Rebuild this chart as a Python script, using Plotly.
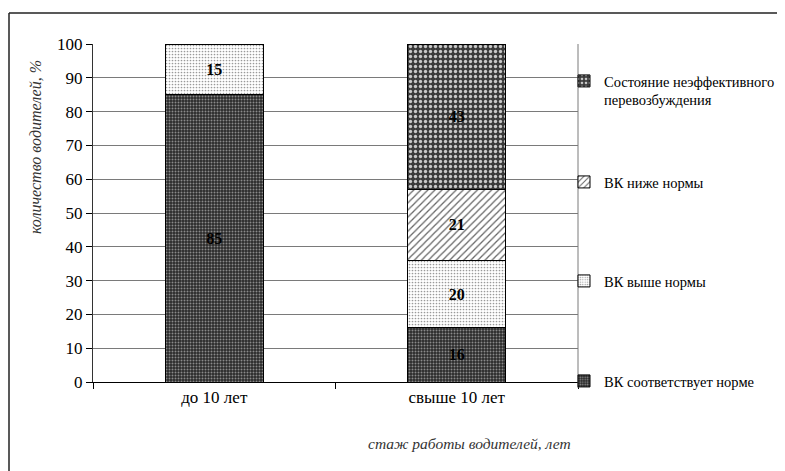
import plotly.graph_objects as go

categories = ["до 10 лет", "свыше 10 лет"]
series_names = [
    "ВК соответствует норме",
    "ВК выше нормы",
    "ВК ниже нормы",
    "Состояние неэффективного<br>перевозбуждения",
]
values_norm = [85, 16]
values_above = [15, 20]
values_below = [0, 21]
values_overexc = [0, 43]
y_ticks = list(range(0, 101, 10))

series_values = [values_norm, values_above, values_below, values_overexc]

styles = [
    dict(bgcolor="#2a2a2a", fgcolor="#8a8a8a", shape=".", size=3, solidity=0.35),
    dict(bgcolor="#ffffff", fgcolor="#9a9a9a", shape=".", size=3, solidity=0.25),
    dict(bgcolor="#ffffff", fgcolor="#666666", shape="/", size=5, solidity=0.25),
    dict(bgcolor="#3a3a3a", fgcolor="#c8c8c8", shape=".", size=5, solidity=0.35),
]

SERIF = "Liberation Serif, Times New Roman, serif"

# page offset compensation (browser body margin)
OFF = 8
W, H = 785 - OFF, 471 - OFF
L, T = 93 - OFF, 44 - OFF
R = 207
B = 89
PW = W - L - R
PH = H - T - B

def px(xs):
    """screen x pixel -> paper coord"""
    return (xs - OFF - L) / PW

def py(ys):
    """screen y pixel -> paper coord"""
    return (H - B - (ys - OFF)) / PH

legend_ys = [381, 281, 182, 81]

fig = go.Figure()
for i, (name, vals) in enumerate(zip(series_names, series_values)):
    fig.add_trace(go.Bar(
        x=categories,
        y=vals,
        name=name,
        text=[str(v) if v else "" for v in vals],
        textposition="inside",
        insidetextanchor="middle",
        textangle=0,
        constraintext="none",
        textfont=dict(family=SERIF, size=16, color="black", weight="bold"),
        marker=dict(
            color=styles[i]["bgcolor"],
            line=dict(color="black", width=1),
            pattern=dict(
                shape=styles[i]["shape"],
                bgcolor=styles[i]["bgcolor"],
                fgcolor=styles[i]["fgcolor"],
                size=styles[i]["size"],
                solidity=styles[i]["solidity"],
                fillmode="replace",
            ),
        ),
        width=0.405,
        legend="legend" if i == 0 else f"legend{i+1}",
        hoverinfo="skip",
    ))

legend_common = dict(
    font=dict(family=SERIF, size=14.5, color="black"),
    bgcolor="rgba(0,0,0,0)",
    borderwidth=0,
    itemwidth=30,
    xanchor="left",
    yanchor="top",
    valign="top",
    tracegroupgap=0,
    itemclick=False,
)
layout_legends = {}
for i, ys in enumerate(legend_ys):
    key = "legend" if i == 0 else f"legend{i+1}"
    d = dict(legend_common)
    d["x"] = px(564)
    d["y"] = py(ys - 16)
    layout_legends[key] = d

fig.update_layout(
    width=W, height=H,
    margin=dict(l=L, r=R, t=T, b=B, autoexpand=False),
    barmode="stack",
    plot_bgcolor="white",
    paper_bgcolor="white",
    showlegend=True,
    font=dict(family=SERIF, size=17, color="black"),
    xaxis=dict(
        showline=True, linecolor="black", linewidth=1,
        ticks="outside", tickson="boundaries", ticklen=6, tickcolor="black",
        showgrid=False, automargin=False,
        tickfont=dict(family=SERIF, size=17, color="black"),
    ),
    yaxis=dict(
        range=[0, 100],
        tickvals=y_ticks,
        showline=True, linecolor="#333", linewidth=1,
        ticks="outside", ticklen=6, tickcolor="black",
        showgrid=True, gridcolor="#7a7a7a", gridwidth=1,
        zeroline=False, automargin=False,
        tickfont=dict(family=SERIF, size=17, color="black"),
    ),
    **layout_legends,
)

# right plot edge line
fig.add_shape(type="line", xref="paper", yref="paper", x0=1, x1=1, y0=py(388), y1=1,
              line=dict(color="#7a7a7a", width=1))
# outer frame (top and left edges)
fig.add_shape(type="line", xref="paper", yref="paper", x0=px(9), x1=px(800), y0=py(13), y1=py(13),
              line=dict(color="#222", width=1.5))
fig.add_shape(type="line", xref="paper", yref="paper", x0=px(9), x1=px(9), y0=py(13), y1=py(480),
              line=dict(color="#222", width=1.5))

fig.add_annotation(
    text="количество водителей, %", xref="paper", yref="paper",
    x=px(35), y=py(147), textangle=-90, showarrow=False,
    font=dict(family=SERIF, size=16, color="#333", style="italic"),
    xanchor="center", yanchor="middle",
)
fig.add_annotation(
    text="стаж работы водителей, лет", xref="paper", yref="paper",
    x=px(469), y=py(443), showarrow=False,
    font=dict(family=SERIF, size=15.5, color="#333", style="italic"),
    xanchor="center", yanchor="middle",
)

fig.write_html("out.html")
